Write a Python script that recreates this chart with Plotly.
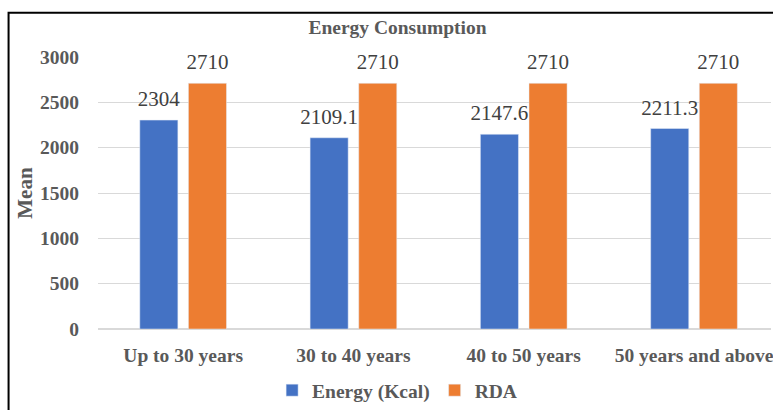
import plotly.graph_objects as go

# Mean daily energy intake by age group against the recommended allowance
age_groups = ["Up to 30 years", "30 to 40 years", "40 to 50 years", "50 years and above"]
energy_kcal = [2304, 2109.1, 2147.6, 2211.3]
rda_kcal = [2710, 2710, 2710, 2710]
y_ticks = [0, 500, 1000, 1500, 2000, 2500, 3000]

SERIF = "Liberation Serif, Times New Roman, serif"
GREY = "#595959"
LABEL = "#404040"

W, H = 773, 410
ML, MT, MB = 98, 57, 77
plot_w = W - ML
plot_h = H - MT - MB
cat_px = 170.8  # width of one category band
GAP = 0.429


def px_x(p):
    return (p - ML) / plot_w


def px_y(p):
    return (H - MB - p) / plot_h


series = [
    ("Energy (Kcal)", energy_kcal, "#4472C4", "energy"),
    ("RDA", rda_kcal, "#ED7D31", "rda"),
]

fig = go.Figure()
for name, values, color, grp in series:
    fig.add_trace(go.Bar(
        name=name, x=age_groups, y=values,
        marker_color=color, offsetgroup=grp, alignmentgroup="g",
    ))
# value labels sitting above each bar, grouped the same way as the bars
for name, values, color, grp in series:
    fig.add_trace(go.Scatter(
        x=age_groups, y=values, mode="markers+text",
        text=[f"{v:g}" for v in values], textposition="top center",
        textfont=dict(family=SERIF, size=21, color=LABEL),
        marker=dict(size=12.4, opacity=0, color=color),
        offsetgroup=grp, alignmentgroup="g",
        showlegend=False, hoverinfo="skip", cliponaxis=False,
    ))

fig.update_layout(
    width=W, height=H,
    margin=dict(l=ML, r=0, t=MT, b=MB, pad=0),
    paper_bgcolor="white", plot_bgcolor="white",
    barmode="group", bargap=GAP, bargroupgap=0.217,
    scattermode="group", scattergap=GAP,
    title=dict(
        text="Energy Consumption",
        font=dict(family=SERIF, size=19.5, color=GREY, weight="bold"),
        x=397.5 / W, xref="container", xanchor="center",
        y=1 - 27 / H, yref="container", yanchor="middle",
    ),
    xaxis=dict(
        type="category",
        range=[-0.5, -0.5 + plot_w / cat_px],
        showgrid=False, showline=False, zeroline=False,
        ticks="", ticklabelstandoff=12, ticklabeloverflow="allow",
        tickfont=dict(family=SERIF, size=19.5, color=GREY, weight="bold"),
    ),
    yaxis=dict(
        range=[0, 3000], tickvals=y_ticks,
        showgrid=True, gridcolor="#d9d9d9", gridwidth=1,
        zeroline=True, zerolinecolor="#d9d9d9", zerolinewidth=1.5,
        showline=False, ticks="", ticklabelstandoff=18,
        tickfont=dict(family=SERIF, size=19.5, color=GREY, weight="bold"),
    ),
    showlegend=True,
    legend=dict(
        orientation="h", x=px_x(398), xanchor="center",
        y=px_y(396), yanchor="middle",
        font=dict(family=SERIF, size=19.5, color=GREY, weight="bold"),
        itemwidth=30, bgcolor="rgba(0,0,0,0)",
    ),
    annotations=[dict(
        text="Mean", textangle=-90,
        x=px_x(24), y=px_y(194.5), xref="paper", yref="paper",
        xanchor="center", yanchor="middle", showarrow=False,
        font=dict(family=SERIF, size=21, color=GREY, weight="bold"),
    )],
    shapes=[dict(
        type="rect", xref="paper", yref="paper",
        x0=px_x(8.3), x1=px_x(W + 30), y0=px_y(H + 30), y1=px_y(12),
        line=dict(color="black", width=2), fillcolor="rgba(0,0,0,0)",
        layer="above",
    )],
)

fig.write_html("out.html")
